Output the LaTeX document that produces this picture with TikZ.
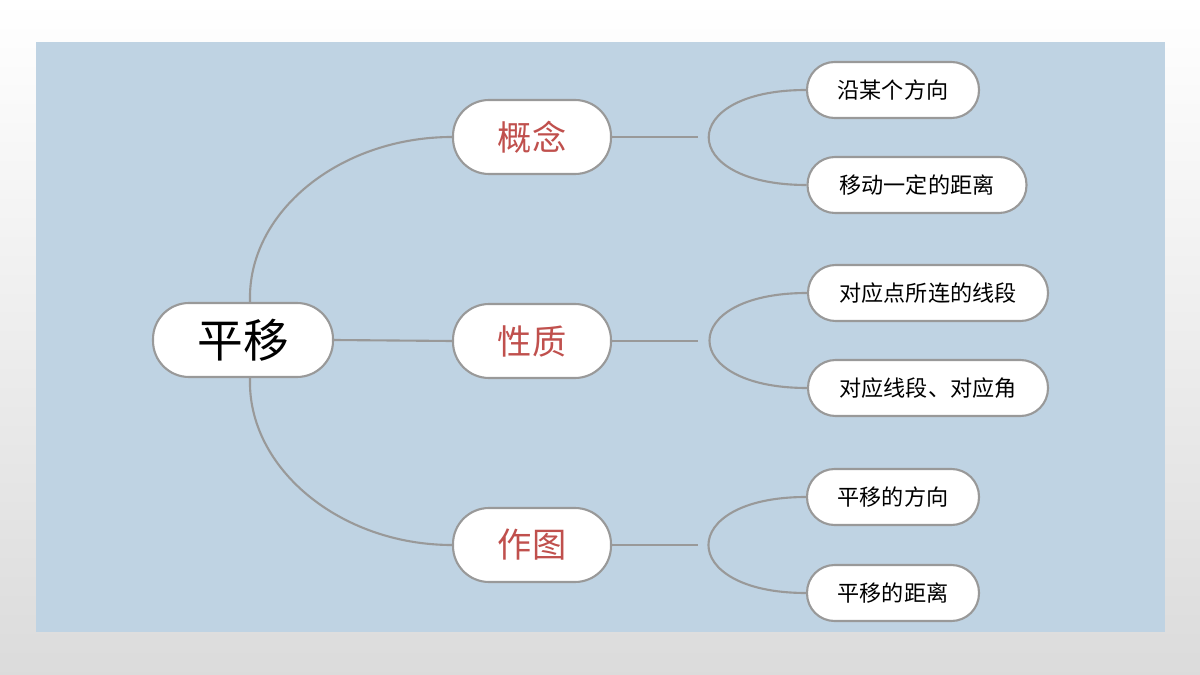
\documentclass[tikz,border=0pt]{standalone}
\usepackage{fontspec}
\setmainfont{Noto Sans CJK SC}
\usetikzlibrary{positioning}
\definecolor{panelblue}{HTML}{BFD3E3}
\definecolor{edgegray}{HTML}{999999}
\definecolor{topicred}{HTML}{C0504D}
\tikzset{
    pill/.style={draw=edgegray, line width=1.2pt, fill=white, rounded corners=0.72cm, inner sep=0pt},
    rootbox/.style={pill, minimum width=3.6cm, minimum height=1.48cm, font=\fontsize{26}{28}\selectfont},
    topicbox/.style={pill, minimum width=3.16cm, minimum height=1.48cm, text=topicred, font=\fontsize{19.5}{21}\selectfont},
    leafbox/.style={pill, rounded corners=0.55cm, minimum height=1.12cm, font=\fontsize{12.6}{14}\selectfont},
    link/.style={draw=edgegray, line width=1.2pt}
}
\begin{document}
\begin{tikzpicture}[x=0.02cm, y=-0.02cm]
    \shade[top color=white, bottom color=black!14] (0,0) rectangle (1200,675);
    \useasboundingbox (0,0) rectangle (1200,675);
    \fill[panelblue] (36,42) rectangle (1165,632);
    \node[rootbox] (root) at (243,340) {平移};
    \node[topicbox] (gn) at (532,137) {概念};
    \node[topicbox] (xz) at (532,341) {性质};
    \node[topicbox] (zt) at (532,545) {作图};
    \node[leafbox, minimum width=3.44cm] (gn1) at (893,90) {沿某个方向};
    \node[leafbox, minimum width=4.38cm] (gn2) at (917,185) {移动一定的距离};
    \node[leafbox, minimum width=4.8cm] (xz1) at (928,293) {对应点所连的线段};
    \node[leafbox, minimum width=4.8cm] (xz2) at (928,388) {对应线段、对应角};
    \node[leafbox, minimum width=3.44cm] (zt1) at (893,497) {平移的方向};
    \node[leafbox, minimum width=3.44cm] (zt2) at (893,593) {平移的距离};
    % root to topics
    \coordinate (rtop) at ([xshift=4]root.north);
    \coordinate (rbot) at ([xshift=4]root.south);
    \draw[link] (rtop) .. controls (247,212) and (340,137) .. (gn.west);
    \draw[link] (root.east) -- (xz.west);
    \draw[link] (rbot) .. controls (247,468) and (340,545) .. (zt.west);
    % topics to leaves
    \foreach \t/\a/\b in {gn/gn1/gn2, xz/xz1/xz2, zt/zt1/zt2} {
        \draw[link] (\t.east) -- ++(86,0);
        \draw[link] (\a.west) .. controls +(-130,0) and +(-130,0) .. (\b.west);
    }
\end{tikzpicture}
\end{document}
